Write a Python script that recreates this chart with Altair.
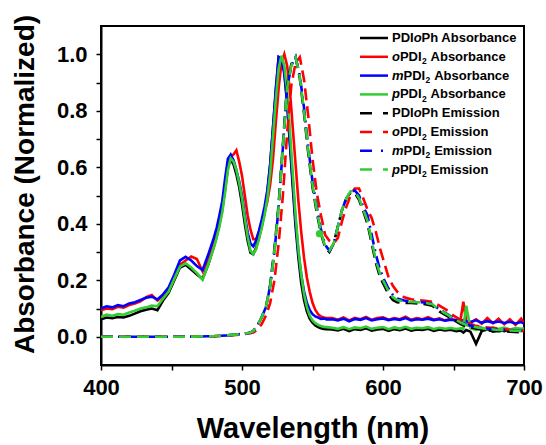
import altair as alt
import pandas as pd

FONT = "Liberation Sans, Arial, Helvetica, sans-serif"

series_keys = ["PDIoPh", "oPDI2", "mPDI2", "pPDI2"]
series_colors = ["#000000", "#FF0000", "#0000FF", "#33CC33"]

# ---------------- absorbance (solid) ----------------
abs_wl = list(range(400, 481, 4)) + list(range(482, 561, 2)) + \
    [564, 568, 572, 576, 580, 584, 588, 592, 596, 600, 604, 608, 612, 616, 620, 624, 628,
     632, 636, 640, 644, 648, 652, 655, 657, 659, 662, 666, 670, 674, 678, 682, 686, 690,
     694, 698, 700]

abs_black = [0.062, 0.068, 0.066, 0.070, 0.068, 0.074, 0.082, 0.090, 0.096, 0.100, 0.094,
             0.128, 0.155, 0.200, 0.245, 0.255, 0.238, 0.220, 0.205, 0.255, 0.318] + \
    [0.355, 0.40, 0.45, 0.53, 0.60, 0.628, 0.61, 0.575, 0.53, 0.47,
     0.40, 0.34, 0.298, 0.292, 0.315, 0.35, 0.39, 0.44, 0.51, 0.61,
     0.74, 0.87, 0.99, 0.985, 0.94, 0.83, 0.68, 0.53, 0.39, 0.28,
     0.19, 0.13, 0.09, 0.064, 0.05, 0.04, 0.034, 0.03, 0.028, 0.027] + \
    [0.026, 0.022, 0.028, 0.020, 0.027, 0.024, 0.030, 0.022, 0.026, 0.028, 0.021, 0.027,
     0.023, 0.029, 0.022, 0.026, 0.024, 0.028, 0.021, 0.026, 0.022, 0.025, 0.020, 0.022,
     0.015, 0.024, 0.018, -0.025, 0.020, 0.026, 0.018, 0.024, 0.020, 0.026, 0.019, 0.025,
     0.022]

abs_red = [0.094, 0.100, 0.098, 0.106, 0.103, 0.112, 0.118, 0.125, 0.140, 0.148, 0.128,
           0.145, 0.165, 0.205, 0.255, 0.270, 0.284, 0.275, 0.232, 0.275, 0.335] + \
    [0.37, 0.41, 0.455, 0.52, 0.60, 0.64, 0.645, 0.66, 0.62, 0.57,
     0.50, 0.43, 0.38, 0.345, 0.345, 0.37, 0.40, 0.44, 0.48, 0.54,
     0.63, 0.76, 0.88, 0.97, 1.0, 0.96, 0.87, 0.74, 0.61, 0.48,
     0.37, 0.28, 0.21, 0.16, 0.12, 0.095, 0.08, 0.072, 0.068, 0.066] + \
    [0.066, 0.060, 0.068, 0.058, 0.067, 0.062, 0.070, 0.060, 0.066, 0.069, 0.060, 0.066,
     0.062, 0.071, 0.060, 0.066, 0.062, 0.069, 0.060, 0.065, 0.058, 0.063, 0.058, 0.060,
     0.124, 0.055, 0.050, 0.062, 0.046, 0.066, 0.048, 0.064, 0.044, 0.062, 0.042, 0.064,
     0.048]

abs_blue = [0.100, 0.108, 0.104, 0.112, 0.108, 0.118, 0.122, 0.130, 0.138, 0.142, 0.132,
            0.150, 0.175, 0.220, 0.270, 0.283, 0.270, 0.250, 0.236, 0.290, 0.350] + \
    [0.385, 0.43, 0.48, 0.56, 0.63, 0.645, 0.625, 0.59, 0.55, 0.50,
     0.43, 0.37, 0.33, 0.32, 0.34, 0.375, 0.415, 0.46, 0.52, 0.61,
     0.74, 0.88, 0.99, 0.985, 0.93, 0.83, 0.69, 0.55, 0.41, 0.30,
     0.22, 0.16, 0.12, 0.095, 0.08, 0.072, 0.068, 0.063, 0.065, 0.061] + \
    [0.062, 0.058, 0.064, 0.055, 0.063, 0.060, 0.066, 0.058, 0.062, 0.065, 0.059, 0.063,
     0.060, 0.066, 0.058, 0.062, 0.060, 0.064, 0.059, 0.062, 0.057, 0.060, 0.058, 0.055,
     0.060, 0.056, 0.052, 0.058, 0.050, 0.055, 0.050, 0.054, 0.049, 0.053, 0.047, 0.052,
     0.046]

abs_green = [0.070, 0.078, 0.074, 0.080, 0.078, 0.086, 0.092, 0.100, 0.104, 0.110, 0.108,
             0.135, 0.160, 0.205, 0.248, 0.260, 0.245, 0.225, 0.202, 0.255, 0.315] + \
    [0.35, 0.39, 0.44, 0.51, 0.59, 0.632, 0.62, 0.59, 0.545, 0.49,
     0.42, 0.355, 0.305, 0.292, 0.31, 0.345, 0.385, 0.43, 0.49, 0.58,
     0.71, 0.84, 0.95, 0.995, 0.96, 0.87, 0.73, 0.58, 0.43, 0.31,
     0.22, 0.15, 0.105, 0.075, 0.058, 0.048, 0.042, 0.038, 0.035, 0.034] + \
    [0.032, 0.028, 0.034, 0.027, 0.033, 0.030, 0.036, 0.028, 0.032, 0.034, 0.027, 0.033,
     0.029, 0.035, 0.028, 0.032, 0.030, 0.034, 0.027, 0.032, 0.028, 0.031, 0.027, 0.030,
     0.028, 0.110, 0.030, 0.024, 0.032, 0.026, 0.033, 0.027, 0.032, 0.026, 0.031, 0.028,
     0.030]

# ---------------- emission (dashed) ----------------
em_wl = [400, 420, 440, 460, 480, 490, 500, 505] + list(range(508, 611, 3)) + \
    list(range(615, 671, 5)) + [680, 690, 700]

em_black = [0.0, 0.0, 0.0, 0.0, 0.002, 0.005, 0.01, 0.013,
            0.02, 0.04, 0.07, 0.105, 0.185, 0.31, 0.47, 0.68, 0.89, 0.965,
            0.99, 0.915, 0.79, 0.65, 0.53, 0.44, 0.365, 0.315, 0.30, 0.33,
            0.39, 0.45, 0.49, 0.51, 0.51, 0.485, 0.445, 0.40, 0.33, 0.26,
            0.21, 0.18, 0.15, 0.13, 0.122,
            0.12, 0.12, 0.118, 0.115, 0.11, 0.09, 0.075, 0.06, 0.045, 0.035, 0.03, 0.025,
            0.02, 0.018, 0.015]
em_red = [0.0, 0.0, 0.0, 0.0, 0.002, 0.004, 0.008, 0.012,
          0.015, 0.025, 0.045, 0.075, 0.12, 0.2, 0.33, 0.5, 0.72, 0.89,
          0.97, 0.99, 0.91, 0.78, 0.63, 0.51, 0.43, 0.36, 0.34, 0.33,
          0.35, 0.41, 0.46, 0.5, 0.525, 0.525, 0.49, 0.45, 0.42, 0.37,
          0.31, 0.26, 0.21, 0.18, 0.16,
          0.14, 0.133, 0.13, 0.127, 0.124, 0.11, 0.095, 0.075, 0.06, 0.05, 0.04, 0.035,
          0.03, 0.025, 0.02]
em_blue = [0.0, 0.0, 0.0, 0.0, 0.002, 0.005, 0.01, 0.013,
           0.02, 0.04, 0.07, 0.105, 0.18, 0.3, 0.46, 0.67, 0.88, 0.96,
           0.99, 0.925, 0.81, 0.67, 0.55, 0.46, 0.38, 0.325, 0.305, 0.33,
           0.39, 0.45, 0.49, 0.515, 0.518, 0.5, 0.46, 0.43, 0.36, 0.29,
           0.235, 0.2, 0.17, 0.148, 0.135,
           0.128, 0.125, 0.123, 0.121, 0.116, 0.097, 0.082, 0.066, 0.052, 0.042, 0.036, 0.031,
           0.026, 0.023, 0.02]
em_green = [0.0, 0.0, 0.0, 0.0, 0.002, 0.005, 0.01, 0.013,
            0.02, 0.04, 0.07, 0.105, 0.18, 0.3, 0.46, 0.67, 0.88, 0.96,
            0.99, 0.92, 0.8, 0.66, 0.54, 0.45, 0.37, 0.32, 0.305, 0.33,
            0.39, 0.45, 0.49, 0.515, 0.515, 0.49, 0.45, 0.41, 0.34, 0.27,
            0.22, 0.19, 0.16, 0.14, 0.13,
            0.125, 0.123, 0.122, 0.12, 0.115, 0.095, 0.08, 0.065, 0.05, 0.04, 0.035, 0.03,
            0.025, 0.022, 0.02]

# stray marker on the pPDI2 emission trace
dot_wl = [555]
dot_val = [0.365]

x_ticks = [400, 450, 500, 550, 600, 650, 700]
y_ticks = [0.0, 0.1, 0.2, 0.3, 0.4, 0.5, 0.6, 0.7, 0.8, 0.9, 1.0]

abs_vals = [abs_black, abs_red, abs_blue, abs_green]
em_vals = [em_black, em_red, em_blue, em_green]

abs_df = pd.concat([pd.DataFrame({"wl": abs_wl, "val": v, "series": k})
                    for k, v in zip(series_keys, abs_vals)], ignore_index=True)
em_df = pd.concat([pd.DataFrame({"wl": em_wl, "val": v, "series": k})
                   for k, v in zip(series_keys, em_vals)], ignore_index=True)
dot_df = pd.DataFrame({"wl": dot_wl, "val": dot_val})

PAD_L, PAD_T, PAD_R, PAD_B = 101, 26, 22, 80
W, H = 423, 339

xs = alt.Scale(domain=[400, 700], nice=False, zero=False)
ys = alt.Scale(domain=[-0.1, 1.1], nice=False, zero=False)

x_axis = alt.Axis(values=x_ticks, format="d",
                  labelExpr="datum.value % 100 === 0 ? datum.label : ''",
                  grid=False, tickSize=5, tickWidth=1.5, tickColor="black",
                  domainColor="black", domainWidth=2, labelFlush=False,
                  labelFont=FONT, labelFontSize=22, labelFontWeight="bold",
                  labelColor="black", labelPadding=7,
                  title="Wavelength (nm)", titleFont=FONT, titleFontSize=29,
                  titleFontWeight="bold", titleColor="black",
                  titleX=W / 2, titleY=72, titleAlign="center",
                  titleBaseline="alphabetic")
y_axis = alt.Axis(values=y_ticks, format=".1f",
                  labelExpr="round(datum.value * 10) % 2 === 0 ? datum.label : ''",
                  grid=False, tickSize=5, tickWidth=1.5, tickColor="black",
                  domainColor="black", domainWidth=2, labelFlush=False,
                  labelFont=FONT, labelFontSize=22, labelFontWeight="bold",
                  labelColor="black", labelPadding=9,
                  title="Absorbance (Normalized)", titleFont=FONT, titleFontSize=28,
                  titleFontWeight="bold", titleColor="black", titleAngle=270,
                  titleX=-68, titleY=158, titleAlign="center",
                  titleBaseline="alphabetic")

X = alt.X("wl:Q", scale=xs, axis=x_axis)
Y = alt.Y("val:Q", scale=ys, axis=y_axis)

layers = []
base_abs = alt.Chart(abs_df).encode(x=X, y=Y)
for k, c in zip(series_keys, series_colors):
    layers.append(base_abs.transform_filter(alt.datum.series == k)
                  .mark_line(color=c, strokeWidth=2.6, clip=True))

base_em = alt.Chart(em_df).encode(x=X, y=Y)
dashes = {"PDIoPh": [12, 6], "oPDI2": [12, 6], "mPDI2": [12, 5, 2, 5], "pPDI2": [12, 6]}
for k, c in zip(series_keys, series_colors):
    layers.append(base_em.transform_filter(alt.datum.series == k)
                  .mark_line(color=c, strokeWidth=2.6, strokeDash=dashes[k], clip=True))

layers.append(alt.Chart(dot_df).mark_circle(color=series_colors[3], size=55, opacity=1)
              .encode(x=X, y=Y))

# ---------------- hand-built legend (rich text) ----------------
AW = {"P": 667, "D": 722, "I": 278, "o": 611, "h": 611, " ": 278, "A": 722, "b": 611,
      "s": 556, "r": 389, "a": 556, "n": 611, "c": 556, "e": 556, "E": 667, "m": 889,
      "i": 278, "2": 556, "p": 611}


def tw(s, size):
    return sum(AW.get(ch, 556) for ch in s) * size / 1000.0


entries = [
    [("PDI", "n"), ("o", "i"), ("Ph Absorbance", "n")],
    [("o", "i"), ("PDI", "n"), ("2", "s"), (" Absorbance", "n")],
    [("m", "i"), ("PDI", "n"), ("2", "s"), (" Absorbance", "n")],
    [("p", "i"), ("PDI", "n"), ("2", "s"), (" Absorbance", "n")],
    [("PDI", "n"), ("o", "i"), ("Ph Emission", "n")],
    [("o", "i"), ("PDI", "n"), ("2", "s"), (" Emission", "n")],
    [("m", "i"), ("PDI", "n"), ("2", "s"), (" Emission", "n")],
    [("p", "i"), ("PDI", "n"), ("2", "s"), (" Emission", "n")],
]
leg_colors = series_colors + series_colors
leg_dash = [None, None, None, None, [12, 11], [12, 11], [12, 9, 2, 9], [12, 11]]

dummy = pd.DataFrame({"a": [0]})
FS, SFS = 13, 8.5
for i, segs in enumerate(entries):
    yy = 38 + 18.8 * i - PAD_T
    rule_kw = dict(color=leg_colors[i], strokeWidth=2.5)
    if leg_dash[i] is not None:
        rule_kw["strokeDash"] = leg_dash[i]
    layers.append(alt.Chart(dummy).mark_rule(**rule_kw).encode(
        x=alt.value(360 - PAD_L), x2=alt.value(388 - PAD_L), y=alt.value(yy)))
    xx = 392.0 - PAD_L
    for txt, sty in segs:
        if sty == "s":
            layers.append(alt.Chart(dummy).mark_text(
                text=txt, align="left", baseline="middle", font=FONT, fontSize=SFS,
                fontWeight="bold", color="black").encode(
                x=alt.value(xx + 0.3), y=alt.value(yy + 4.5)))
            xx += tw(txt, SFS) + 0.6
        else:
            lead = len(txt) - len(txt.lstrip(" "))
            xx += tw(" " * lead, FS)
            body = txt.lstrip(" ")
            layers.append(alt.Chart(dummy).mark_text(
                text=body, align="left", baseline="middle", font=FONT, fontSize=FS,
                fontWeight="bold", fontStyle="italic" if sty == "i" else "normal",
                color="black").encode(x=alt.value(xx), y=alt.value(yy)))
            xx += tw(body, FS)

chart = alt.layer(*layers).properties(
    width=W, height=H,
    autosize=alt.AutoSizeParams(type="none"),
    padding={"left": PAD_L, "top": PAD_T, "right": PAD_R, "bottom": PAD_B},
    background="white",
).configure_view(stroke="black", strokeWidth=2)

chart.save("out.html", embed_options={"renderer": "svg", "actions": False})
